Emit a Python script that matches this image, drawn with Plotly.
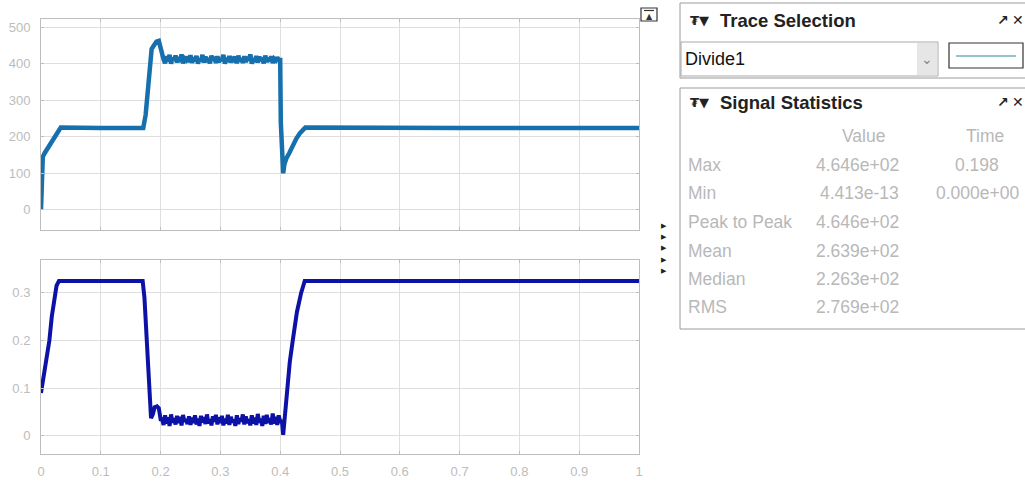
import plotly.graph_objects as go

W, H = 1025, 481

# ---------------- data ----------------
top_t = [0, 0.001, 0.003, 0.006, 0.012, 0.018, 0.024, 0.029, 0.033, 0.1, 0.171,
         0.175, 0.179, 0.182, 0.185, 0.189, 0.193, 0.197, 0.2, 0.203,
         0.205, 0.2075, 0.21, 0.2125, 0.215, 0.2175, 0.22, 0.2225, 0.225, 0.2275,
         0.23, 0.2325, 0.235, 0.2375, 0.24, 0.2425, 0.245, 0.2475, 0.25, 0.2525,
         0.255, 0.2575, 0.26, 0.2625, 0.265, 0.2675, 0.27, 0.2725, 0.275, 0.2775,
         0.28, 0.2825, 0.285, 0.2875, 0.29, 0.2925, 0.295, 0.2975, 0.3, 0.3025,
         0.305, 0.3075, 0.31, 0.3125, 0.315, 0.3175, 0.32, 0.3225, 0.325, 0.3275,
         0.33, 0.3325, 0.335, 0.3375, 0.34, 0.3425, 0.345, 0.3475, 0.35, 0.3525,
         0.355, 0.3575, 0.36, 0.3625, 0.365, 0.3675, 0.37, 0.3725, 0.375, 0.3775,
         0.38, 0.3825, 0.385, 0.3875, 0.39, 0.3925, 0.395, 0.3975,
         0.4, 0.401, 0.403, 0.405, 0.407, 0.41, 0.415, 0.42, 0.427, 0.433, 0.438, 0.442, 0.7, 1.0]
top_v = [0, 115, 145, 155, 170, 190, 205, 218, 225, 224, 224,
         260, 330, 400, 440, 450, 460, 462, 440, 415,
         412, 401, 420, 406, 424, 400, 416, 408, 422, 403, 418, 405, 425, 401, 414, 410, 419, 404, 423, 402,
         417, 407, 421, 400, 413, 406, 424, 403, 419, 405, 415, 401, 422, 409, 418, 402, 420, 404, 414, 408,
         424, 400, 416, 405, 421, 403, 413, 410, 419, 401, 422, 406, 415, 402, 420, 404, 418, 409, 425, 400,
         414, 405, 421, 403, 419, 408, 415, 401, 422, 404, 416, 406, 420, 402, 413, 409, 417, 410,
         410, 240, 150, 100, 125, 140, 155, 175, 195, 210, 220, 225, 224, 224]

bot_t = [0, 0.004, 0.009, 0.014, 0.018, 0.022, 0.026, 0.03, 0.1, 0.17,
         0.173, 0.176, 0.179, 0.182, 0.184, 0.187, 0.19, 0.194, 0.197, 0.2,
         0.2025, 0.205, 0.2075, 0.21, 0.2125, 0.215, 0.2175, 0.22, 0.2225, 0.225,
         0.2275, 0.23, 0.2325, 0.235, 0.2375, 0.24, 0.2425, 0.245, 0.2475, 0.25,
         0.2525, 0.255, 0.2575, 0.26, 0.2625, 0.265, 0.2675, 0.27, 0.2725, 0.275,
         0.2775, 0.28, 0.2825, 0.285, 0.2875, 0.29, 0.2925, 0.295, 0.2975, 0.3,
         0.3025, 0.305, 0.3075, 0.31, 0.3125, 0.315, 0.3175, 0.32, 0.3225, 0.325,
         0.3275, 0.33, 0.3325, 0.335, 0.3375, 0.34, 0.3425, 0.345, 0.3475, 0.35,
         0.3525, 0.355, 0.3575, 0.36, 0.3625, 0.365, 0.3675, 0.37, 0.3725, 0.375,
         0.3775, 0.38, 0.3825, 0.385, 0.3875, 0.39, 0.3925, 0.395, 0.3975, 0.4,
         0.403, 0.405, 0.408, 0.411, 0.416, 0.421, 0.428, 0.435, 0.441, 0.7, 1.0]
bot_v = [0.09, 0.125, 0.165, 0.2, 0.25, 0.29, 0.315, 0.325, 0.325, 0.325,
         0.29, 0.21, 0.13, 0.06, 0.037, 0.045, 0.06, 0.062, 0.058, 0.035,
         0.035, 0.023, 0.043, 0.026, 0.039, 0.021, 0.045, 0.028, 0.037, 0.024,
         0.042, 0.027, 0.040, 0.022, 0.044, 0.030, 0.034, 0.025, 0.041, 0.023,
         0.038, 0.027, 0.043, 0.024, 0.036, 0.021, 0.042, 0.028, 0.039, 0.025,
         0.045, 0.026, 0.035, 0.022, 0.041, 0.030, 0.044, 0.024, 0.039, 0.027,
         0.042, 0.022, 0.036, 0.026, 0.044, 0.023, 0.040, 0.028, 0.034, 0.021,
         0.043, 0.025, 0.037, 0.030, 0.045, 0.024, 0.041, 0.027, 0.035, 0.022,
         0.043, 0.026, 0.038, 0.023, 0.046, 0.028, 0.036, 0.021, 0.042, 0.025,
         0.044, 0.027, 0.037, 0.024, 0.047, 0.026, 0.040, 0.023, 0.043, 0.030,
         0.03, 0.002, 0.05, 0.1, 0.155, 0.2, 0.26, 0.3, 0.325, 0.325, 0.325]

x_ticks = [0, 0.1, 0.2, 0.3, 0.4, 0.5, 0.6, 0.7, 0.8, 0.9, 1]
x_tick_labels = ["0", "0.1", "0.2", "0.3", "0.4", "0.5", "0.6", "0.7", "0.8", "0.9", "1"]
top_y_ticks = [0, 100, 200, 300, 400, 500]
bot_y_ticks = [0, 0.1, 0.2, 0.3]

trace_name = "Divide1"
stat_names = ["Max", "Min", "Peak to Peak", "Mean", "Median", "RMS"]
stat_values = ["4.646e+02", "4.413e-13", "4.646e+02", "2.639e+02", "2.263e+02", "2.769e+02"]
stat_times = ["0.198", "0.000e+00", "", "", "", ""]

# ---------------- helpers ----------------
def px(x):
    return x / W

def py(y):
    return 1 - y / H

TOP_COLOR = "#1570ad"
BOT_COLOR = "#0d12a6"
GRID = "#dedede"
AXLINE = "#bdbdbd"
SANS = "Liberation Sans, Arial, sans-serif"
TICKFONT = dict(family=SANS, size=13, color="#bcbcbc")

fig = go.Figure()
fig.add_trace(go.Scatter(x=top_t, y=top_v, mode="lines", xaxis="x", yaxis="y",
                         line=dict(color=TOP_COLOR, width=4.5), showlegend=False, hoverinfo="skip"))
fig.add_trace(go.Scatter(x=bot_t, y=bot_v, mode="lines", xaxis="x2", yaxis="y2",
                         line=dict(color=BOT_COLOR, width=4), showlegend=False, hoverinfo="skip"))

axis_common = dict(showgrid=True, gridcolor=GRID, gridwidth=1, showline=True, linecolor=AXLINE,
                   linewidth=1, mirror="ticks", ticks="inside", ticklen=3, tickcolor=AXLINE,
                   zeroline=False, tickfont=TICKFONT, automargin=False, fixedrange=True)

fig.update_layout(
    width=W, height=H,
    margin=dict(l=0, r=0, t=0, b=0),
    paper_bgcolor="white", plot_bgcolor="white",
    xaxis=dict(domain=[px(41), px(639)], range=[0, 1], tickvals=x_ticks, showticklabels=False,
               anchor="y", **axis_common),
    yaxis=dict(domain=[py(230), py(19)], range=[-55, 522], tickvals=top_y_ticks, anchor="x",
               ticklabelstandoff=7, **axis_common),
    xaxis2=dict(domain=[px(41), px(639)], range=[0, 1], tickvals=x_ticks, ticktext=x_tick_labels,
                anchor="y2", ticklabelstandoff=5, **axis_common),
    yaxis2=dict(domain=[py(454), py(260)], range=[-0.038, 0.369], tickvals=bot_y_ticks, anchor="x2",
                ticklabelstandoff=7, **axis_common),
)

shapes = []
annots = []

def rect(x0, y0, x1, y1, line="#a0a0a0", fill="rgba(0,0,0,0)", width=1):
    shapes.append(dict(type="rect", xref="paper", yref="paper", x0=px(x0), x1=px(x1),
                       y0=py(y1), y1=py(y0), line=dict(color=line, width=width), fillcolor=fill,
                       layer="above"))

def text(x, y, s, size=14, color="#222", anchor="left", bold=False, family=SANS):
    if bold:
        s = "<b>" + s + "</b>"
    annots.append(dict(xref="paper", yref="paper", x=px(x), y=py(y), text=s, showarrow=False,
                       xanchor=anchor, yanchor="middle", font=dict(size=size, color=color, family=family)))

# undock button above plot
rect(641, 8, 657, 21, line="#333", fill="white", width=1.2)
text(649, 16, "▲", size=8, color="#333", anchor="center", family="DejaVu Sans")
shapes.append(dict(type="line", xref="paper", yref="paper", x0=px(644), x1=px(654), y0=py(10.5), y1=py(10.5),
                   line=dict(color="#333", width=1.2)))

# arrows column between panels
for yy in [226, 237, 248, 260, 271]:
    text(664, yy, "▶", size=7, color="#222", anchor="center", family="DejaVu Sans")

# Trace Selection panel
shapes.append(dict(type="path", xref="paper", yref="paper",
                   path=f"M {px(1030)} {py(3)} L {px(680)} {py(3)} L {px(680)} {py(78)} L {px(1030)} {py(78)}",
                   line=dict(color="#9a9a9a", width=1)))
text(688, 20, "<b>₮▼</b>", size=13, color="#222", family="DejaVu Sans")
text(718, 20, "Trace Selection", size=18.5, color="#222", bold=True)
text(1003, 20, "<b>↗</b>", size=14, color="#222", anchor="center", family="DejaVu Sans")
text(1018, 20, "<b>✕</b>", size=14, color="#222", anchor="center", family="DejaVu Sans")
rect(681, 42, 938, 76, line="#a8a8a8", fill="white")
rect(917, 43, 937, 75, line="rgba(0,0,0,0)", fill="#e6e6e6")
text(927, 59, "⌄", size=14, color="#888", anchor="center", family="DejaVu Sans")
text(683, 59, trace_name, size=18, color="#111")
rect(949, 43, 1023, 68, line="#333", fill="white", width=1.2)
shapes.append(dict(type="line", xref="paper", yref="paper", x0=px(956), x1=px(1016), y0=py(56), y1=py(56),
                   line=dict(color="#2a8a9a", width=1.2)))

# Signal Statistics panel
shapes.append(dict(type="path", xref="paper", yref="paper",
                   path=f"M {px(1030)} {py(88)} L {px(680)} {py(88)} L {px(680)} {py(329)} L {px(1030)} {py(329)}",
                   line=dict(color="#9a9a9a", width=1)))
text(688, 102, "<b>₮▼</b>", size=13, color="#222", family="DejaVu Sans")
text(718, 102, "Signal Statistics", size=18.5, color="#222", bold=True)
text(1003, 102, "<b>↗</b>", size=14, color="#222", anchor="center", family="DejaVu Sans")
text(1018, 102, "<b>✕</b>", size=14, color="#222", anchor="center", family="DejaVu Sans")

STAT_COLOR = "#b8b8b8"
text(863, 136, "Value", size=17.5, color=STAT_COLOR, anchor="center")
text(985, 136, "Time", size=17.5, color=STAT_COLOR, anchor="center")
row_y = [165, 193, 222, 251, 279, 307]
for name, val, tm, yy in zip(stat_names, stat_values, stat_times, row_y):
    text(686, yy, name, size=17.5, color=STAT_COLOR)
    text(901, yy, val, size=17.5, color=STAT_COLOR, anchor="right")
    if tm:
        text(977, yy, tm, size=17.5, color=STAT_COLOR, anchor="center")

fig.update_layout(shapes=shapes, annotations=annots)
fig.write_html("out.html", config={"displayModeBar": False})
